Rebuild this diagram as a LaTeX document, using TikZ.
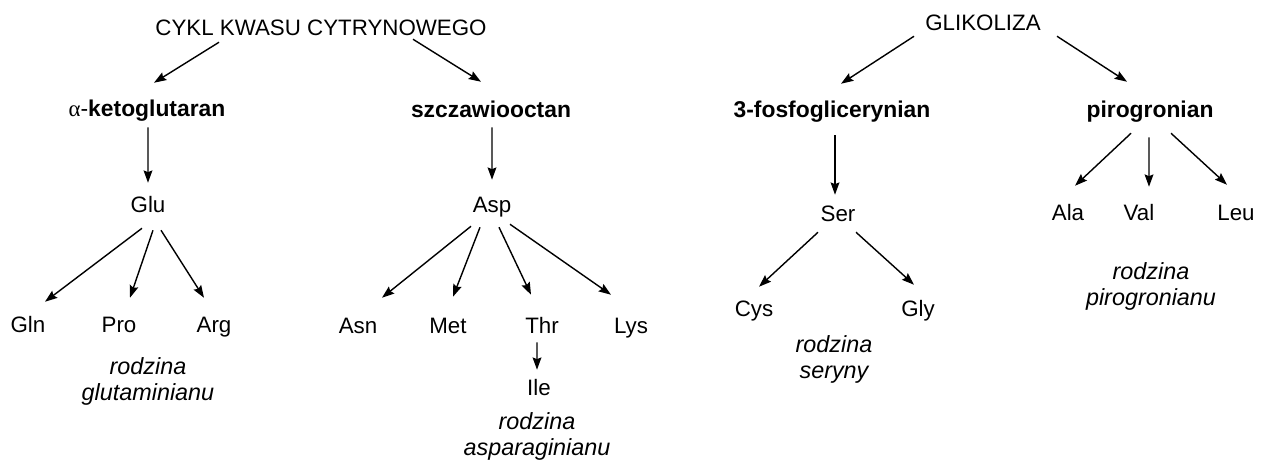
\documentclass[tikz,border=0pt]{standalone}
\usepackage{fontspec}
\setmainfont{Liberation Sans}
\newfontfamily\grk{Liberation Serif}
\usepackage{tikz}
\usetikzlibrary{arrows.meta, positioning}
\tikzset{
    amino/.style={
        inner sep=0pt,
        text height=9pt,
        text depth=0pt,
        font=\fontsize{12.7}{15}\selectfont
    },
    precursor/.style={
        amino,
        font=\fontsize{13}{15}\selectfont\bfseries
    },
    family/.style={
        align=center,
        inner sep=0pt,
        font=\fontsize{13.3}{14.8}\selectfont\itshape
    },
    conv/.style={
        draw=black,
        line width=0.8pt,
        -{Stealth[length=7pt,width=5pt,inset=1pt]}
    }
}

\begin{document}
\begin{tikzpicture}

\useasboundingbox (0,0) rectangle (25.24,-9.22);

\node[amino] (cyk) at (6.42,-0.56) {CYKL KWASU CYTRYNOWEGO};
\node[precursor] (kg) at (2.94,-2.18) {{\mdseries\grk α}{\mdseries -}ketoglutaran};
\node[precursor] (sz) at (9.82,-2.20) {szczawiooctan};
\node[amino] (glu) at (2.96,-4.10) {Glu};
\node[amino] (asp) at (9.84,-4.10) {Asp};

\node[amino] (gln) at (0.56,-6.50) {Gln};
\node[amino] (pro) at (2.38,-6.50) {Pro};
\node[amino] (arg) at (4.28,-6.50) {Arg};
\node[amino] (asn) at (7.16,-6.52) {Asn};
\node[amino] (met) at (8.96,-6.52) {Met};
\node[amino] (thr) at (10.84,-6.52) {Thr};
\node[amino] (lys) at (12.62,-6.52) {Lys};
\node[amino] (ile) at (10.78,-7.76) {Ile};

\node[family] (famglu) at (2.96,-7.62) {rodzina\\glutaminianu};
\node[family] (famasp) at (10.74,-8.72) {rodzina\\asparaginianu};

\node[amino] (glik) at (19.66,-0.46) {GLIKOLIZA};
\node[precursor] (fg) at (16.64,-2.20) {3-fosfoglicerynian};
\node[precursor] (pir) at (23.00,-2.20) {pirogronian};
\node[amino] (ser) at (16.76,-4.28) {Ser};
\node[amino] (ala) at (21.36,-4.26) {Ala};
\node[amino] (val) at (22.78,-4.26) {Val};
\node[amino] (leu) at (24.72,-4.26) {Leu};
\node[amino] (cys) at (15.08,-6.18) {Cys};
\node[amino] (gly) at (18.36,-6.18) {Gly};

\node[family] (famser) at (16.68,-7.18) {rodzina\\seryny};
\node[family] (fampir) at (23.02,-5.72) {rodzina\\pirogronianu};

% citrate cycle branch
\draw[conv] ([shift={(-2.04,-0.12)}]cyk.south) -- ([shift={(0.14,0.36)}]kg.north);
\draw[conv] ([shift={(1.84,-0.06)}]cyk.south) -- ([shift={(-0.20,0.40)}]sz.north);
\draw[conv] ([shift={(0.02,-0.20)}]kg.south) -- ([shift={(0,0.28)}]glu.north);
\draw[conv] ([shift={(0.02,-0.18)}]sz.south) -- ([shift={(0,0.34)}]asp.north);

\draw[conv] ([shift={(-0.12,-0.30)}]glu.south) -- ([shift={(0.34,0.30)}]gln.north);
\draw[conv] ([shift={(0.10,-0.34)}]glu.south) -- ([shift={(0.22,0.38)}]pro.north);
\draw[conv] ([shift={(0.26,-0.34)}]glu.south) -- ([shift={(-0.20,0.38)}]arg.north);

\draw[conv] ([shift={(-0.42,-0.26)}]asp.south) -- ([shift={(0.48,0.40)}]asn.north);
\draw[conv] ([shift={(-0.24,-0.28)}]asp.south) -- ([shift={(0.10,0.42)}]met.north);
\draw[conv] ([shift={(0.14,-0.28)}]asp.south) -- ([shift={(-0.22,0.46)}]thr.north);
\draw[conv] ([shift={(0.36,-0.22)}]asp.south) -- ([shift={(-0.40,0.46)}]lys.north);
\draw[conv] ([shift={(-0.10,-0.16)}]thr.south) -- ([shift={(-0.04,0.20)}]ile.north);

% glycolysis branch
\draw[conv] ([shift={(-1.38,-0.10)}]glik.south) -- ([shift={(0.18,0.36)}]fg.north);
\draw[conv] ([shift={(1.48,-0.10)}]glik.south) -- ([shift={(-0.46,0.40)}]pir.north);
\draw[conv] ([shift={(0.06,-0.34)}]fg.south) -- ([shift={(-0.06,0.22)}]ser.north);

\draw[conv] ([shift={(-0.38,-0.30)}]pir.south) -- ([shift={(0.14,0.38)}]ala.north);
\draw[conv] ([shift={(-0.02,-0.38)}]pir.south) -- ([shift={(0.20,0.36)}]val.north);
\draw[conv] ([shift={(0.42,-0.30)}]pir.south) -- ([shift={(-0.18,0.40)}]leu.north);

\draw[conv] ([shift={(-0.40,-0.20)}]ser.south) -- ([shift={(0.10,0.28)}]cys.north);
\draw[conv] ([shift={(0.36,-0.20)}]ser.south) -- ([shift={(-0.08,0.32)}]gly.north);

\end{tikzpicture}
\end{document}
